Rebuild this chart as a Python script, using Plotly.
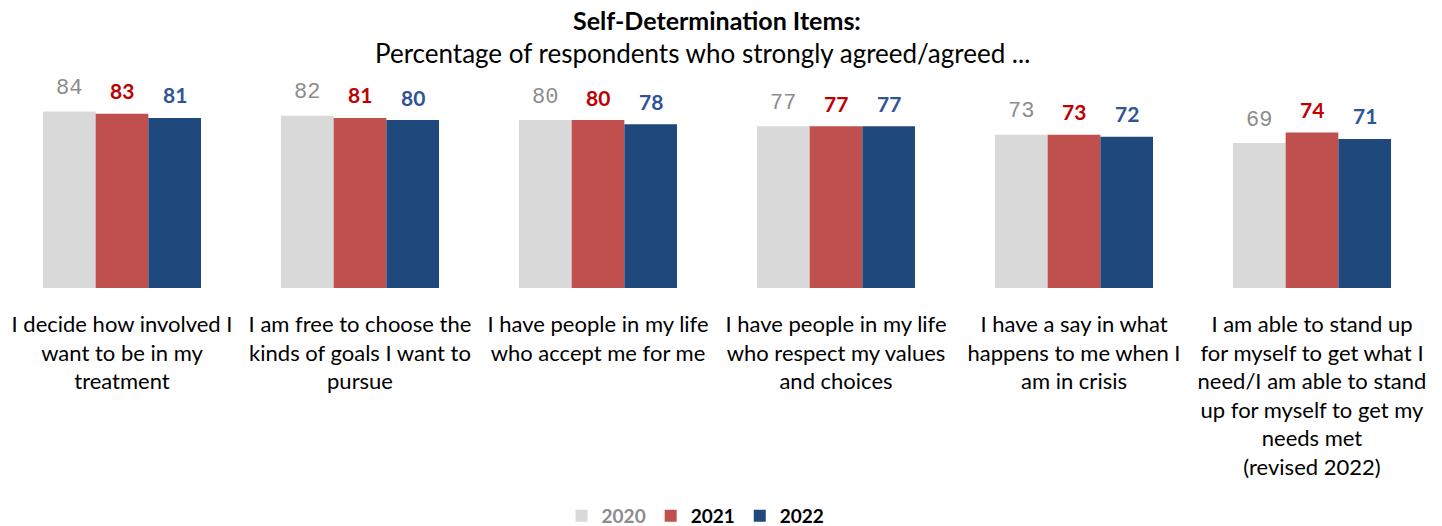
import plotly.graph_objects as go

categories = [
    "I decide how involved I<br>want to be in my<br>treatment",
    "I am free to choose the<br>kinds of goals I want to<br>pursue",
    "I have people in my life<br>who accept me for me",
    "I have people in my life<br>who respect my values<br>and choices",
    "I have a say in what<br>happens to me when I<br>am in crisis",
    "I am able to stand up<br>for myself to get what I<br>need/I am able to stand<br>up for myself to get my<br>needs met<br>(revised 2022)",
]
years = ["2020", "2021", "2022"]
values_2020 = [84, 82, 80, 77, 73, 69]
values_2021 = [83, 81, 80, 77, 73, 74]
values_2022 = [81, 80, 78, 77, 72, 71]

series = [values_2020, values_2021, values_2022]
bar_colors = ["#D9D9D9", "#C0504D", "#1F497D"]
legend_names = [
    "<span style='color:#8C8C8C'><b>2020</b></span>",
    "<b>2021</b>",
    "<b>2022</b>",
]
label_styles = [
    dict(family="Liberation Mono, DejaVu Sans Mono, monospace", size=22, color="#8C8C8C"),
    dict(family="Lato, Open Sans, sans-serif", size=21, color="#C00000"),
    dict(family="Lato, Open Sans, sans-serif", size=21, color="#2F5597"),
]
label_bold = [False, True, True]

fig = go.Figure()
for name, vals, color in zip(legend_names, series, bar_colors):
    fig.add_trace(go.Bar(x=categories, y=vals, name=name, marker_color=color,
                         marker_line_width=0))

# value labels above each bar, offset to the bar's slot in the group
bar_px = 53
for i, vals in enumerate(series):
    for cat, v in zip(categories, vals):
        txt = f"<b>{v}</b>" if label_bold[i] else str(v)
        fig.add_annotation(x=cat, y=v, text=txt, showarrow=False,
                           xshift=(i - 1) * bar_px, yshift=23, yanchor="middle",
                           font=label_styles[i])

fig.add_annotation(x=0.5, y=1.276, xref="paper", yref="paper", showarrow=False,
                   text="<b>Self-Determination Items:</b>", yanchor="middle",
                   font=dict(family="Lato, Open Sans, sans-serif", size=25, color="#000000"))
fig.add_annotation(x=0.4895, y=1.119, xref="paper", yref="paper", showarrow=False,
                   text="Percentage of respondents who strongly agreed/agreed ...", yanchor="middle",
                   font=dict(family="Lato, Open Sans, sans-serif", size=26, color="#000000"))

fig.update_layout(
    width=1442, height=526,
    margin=dict(l=3, r=11, t=78, b=238),
    plot_bgcolor="white", paper_bgcolor="white",
    barmode="group", bargap=0.336, bargroupgap=0,
    font=dict(family="Lato, Open Sans, sans-serif", size=22, color="#000000"),
    showlegend=True,
    legend=dict(orientation="h", x=0.485, xanchor="center", yref="container", y=0.019,
                yanchor="middle", font=dict(size=19, color="#000000"),
                itemwidth=30, tracegroupgap=0),
    xaxis=dict(showline=False, ticks="", ticklabelstandoff=21, tickfont=dict(size=22)),
    yaxis=dict(range=[0, 100], visible=False, showgrid=False),
)

fig.write_html("out.html")
